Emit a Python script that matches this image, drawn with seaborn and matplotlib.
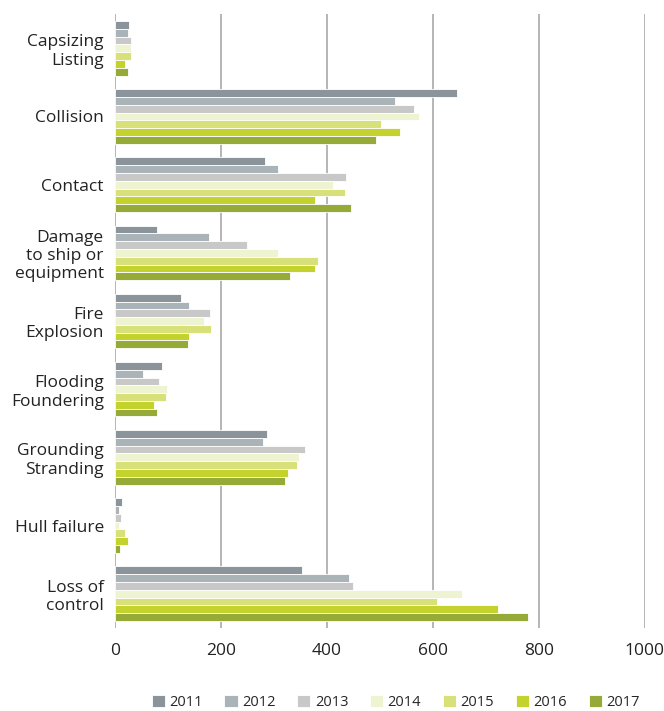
import pandas as pd
import matplotlib.pyplot as plt
import seaborn as sns

# Categorias e anos
causes = ['Capsizing\nListing', 'Collision', 'Contact', 'Damage\nto ship or\nequipment',
          'Fire\nExplosion', 'Flooding\nFoundering', 'Grounding\nStranding',
          'Hull failure', 'Loss of\ncontrol']
years = ['2011', '2012', '2013', '2014', '2015', '2016', '2017']

# Valores (um array por ano)
v2011 = [27, 645, 283, 79, 125, 89, 287, 14, 353]
v2012 = [25, 528, 308, 177, 140, 53, 280, 8, 442]
v2013 = [30, 564, 437, 249, 179, 84, 358, 12, 449]
v2014 = [30, 574, 411, 308, 169, 99, 347, 8, 655]
v2015 = [30, 502, 435, 384, 182, 96, 344, 19, 607]
v2016 = [19, 538, 378, 378, 140, 74, 327, 24, 723]
v2017 = [25, 492, 446, 331, 138, 79, 322, 9, 780]
values = [v2011, v2012, v2013, v2014, v2015, v2016, v2017]

colors = ['#8a949a', '#aab4b8', '#c8c8c8', '#eef3d2', '#d8e07a', '#c4d22e', '#96aa38']

rows = []
for year, vals in zip(years, values):
    for cause, v in zip(causes, vals):
        rows.append([cause, year, v])
df = pd.DataFrame(rows, columns=['cause', 'year', 'count'])

sns.set_style('white')
plt.rcParams['font.family'] = ['Open Sans', 'DejaVu Sans']

fig = plt.figure(figsize=(6.64, 7.11), dpi=100)
ax = fig.add_axes([0.173, 0.117, 0.798, 0.863])

sns.barplot(data=df, y='cause', x='count', hue='year', order=causes, hue_order=years,
            palette=colors, saturation=1, orient='h', width=0.8, edgecolor='white',
            linewidth=0.6, ax=ax, zorder=3)

ax.set_xlim(0, 1000)
ax.set_xticks([0, 200, 400, 600, 800, 1000])
ax.set_ylim(len(causes) - 0.5, -0.5)
for x in [0, 200, 400, 600, 800, 1000]:
    ax.axvline(x, color='#b5b5b5', linewidth=1.4, zorder=1)

for s in ax.spines.values():
    s.set_visible(False)
ax.set_xlabel('')
ax.set_ylabel('')
ax.tick_params(axis='both', length=0, labelsize=12.5, colors='#222222')
ax.tick_params(axis='x', pad=11)
ax.tick_params(axis='y', pad=8)
for lbl in ax.get_yticklabels():
    lbl.set_multialignment('right')

ax.legend(loc='upper center', bbox_to_anchor=(0.53, -0.1), ncol=7, frameon=False,
          fontsize=10.5, handlelength=0.9, handleheight=0.9, handletextpad=0.3,
          columnspacing=1.5, borderaxespad=0)

plt.savefig('out.png', dpi=100)
